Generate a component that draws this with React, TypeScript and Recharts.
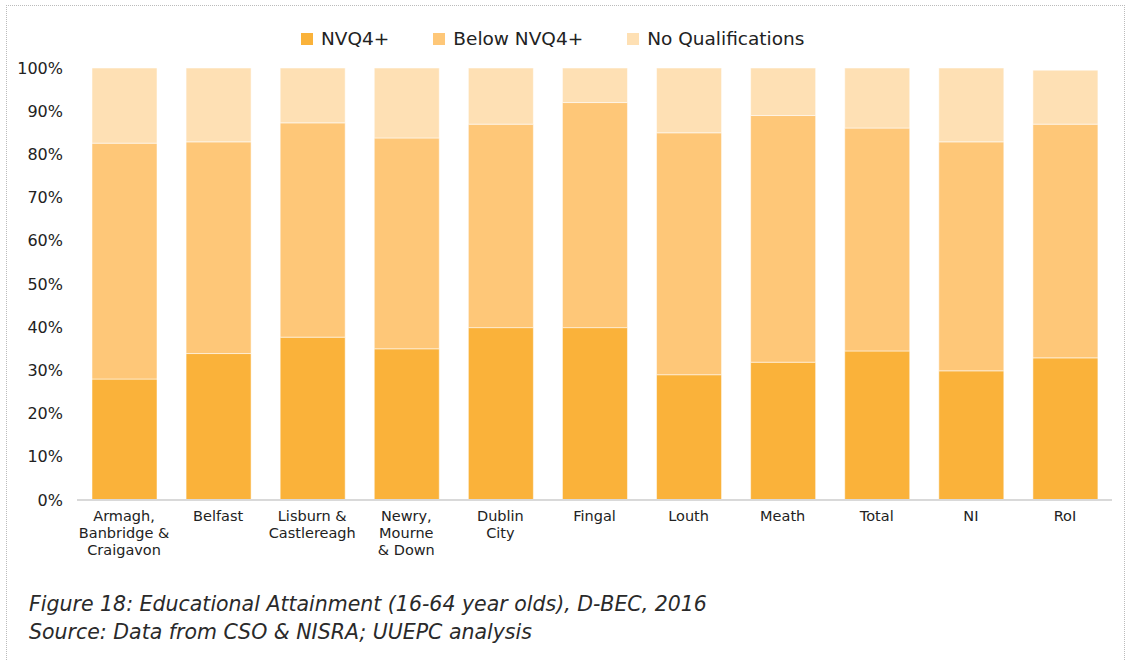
import React from "react";
import { Bar, BarChart, XAxis, YAxis } from "recharts";

const areas = [
  "Armagh,|Banbridge &|Craigavon",
  "Belfast",
  "Lisburn &|Castlereagh",
  "Newry,|Mourne|& Down",
  "Dublin|City",
  "Fingal",
  "Louth",
  "Meath",
  "Total",
  "NI",
  "RoI",
];
const nvq4 = [28.0, 33.9, 37.7, 35.0, 39.9, 39.9, 29.0, 31.9, 34.5, 29.9, 32.9];
const belowNvq4 = [54.6, 49.0, 49.6, 48.8, 47.1, 52.1, 56.0, 57.1, 51.6, 53.0, 54.1];
const noQuals = [17.4, 17.1, 12.7, 16.2, 13.0, 8.0, 15.0, 11.0, 13.9, 17.1, 12.5];
const yTicks = [0, 10, 20, 30, 40, 50, 60, 70, 80, 90, 100];

const series = [
  { key: "nvq4", name: "NVQ4+", color: "#FAB23A" },
  { key: "below", name: "Below NVQ4+", color: "#FEC778" },
  { key: "none", name: "No Qualifications", color: "#FEE0B4" },
];

const FONT = "'DejaVu Sans', sans-serif";

const chartData = areas.map((area, i) => ({
  area,
  nvq4: nvq4[i],
  below: belowNvq4[i],
  none: noQuals[i],
}));

function AreaTick(props: any) {
  const { x, y, payload } = props;
  const lines = String(payload.value).split("|");
  return (
    <text x={x} y={y} textAnchor="middle" fill="#222" fontSize={14.5} fontFamily={FONT}>
      {lines.map((l, i) => (
        <tspan key={i} x={x} dy={i === 0 ? 13 : 17}>
          {l}
        </tspan>
      ))}
    </text>
  );
}

function TopLegend() {
  return (
    <div
      style={{
        position: "absolute",
        left: 301,
        top: 28,
        display: "flex",
        gap: 44,
        fontFamily: FONT,
        fontSize: 18.5,
        lineHeight: "21px",
        color: "#222",
        whiteSpace: "nowrap",
      }}
    >
      {series.map((s) => (
        <div key={s.key} style={{ display: "flex", alignItems: "center" }}>
          <span
            style={{
              width: 12,
              height: 12,
              background: s.color,
              display: "inline-block",
              marginRight: 8,
            }}
          />
          {s.name}
        </div>
      ))}
    </div>
  );
}

export default function App() {
  return (
    <div
      style={{
        position: "absolute",
        left: 0,
        top: 0,
        width: 1125,
        height: 661,
        overflow: "hidden",
        background: "#fff",
      }}
    >
      <div
        style={{
          position: "absolute",
          left: 6,
          top: 5,
          width: 1117,
          height: 700,
          border: "1px dotted #bbb",
          borderBottom: "none",
        }}
      />
      <div style={{ position: "absolute", left: 0, top: 0 }}>
        <BarChart
          width={1125}
          height={580}
          data={chartData}
          margin={{ top: 68, right: 13, bottom: 0, left: 0 }}
        >
          <XAxis
            dataKey="area"
            height={80}
            interval={0}
            tickLine={false}
            axisLine={{ stroke: "#d9d9d9", strokeWidth: 2 }}
            tick={<AreaTick />}
          />
          <YAxis
            width={77}
            domain={[0, 100]}
            ticks={yTicks}
            interval={0}
            axisLine={false}
            tickLine={false}
            tickSize={0}
            tickMargin={14}
            tickFormatter={(v) => `${v}%`}
            tick={{ fill: "#222", fontSize: 16, fontFamily: FONT }}
          />
          {series.map((s) => (
            <Bar
              key={s.key}
              dataKey={s.key}
              name={s.name}
              stackId="a"
              fill={s.color}
              stroke="#fff"
              strokeOpacity={0.5}
              strokeWidth={1}
              barSize={65}
              isAnimationActive={false}
            />
          ))}
        </BarChart>
      </div>
      <TopLegend />
      <div
        style={{
          position: "absolute",
          left: 29,
          top: 590,
          fontFamily: FONT,
          fontStyle: "italic",
          fontWeight: 300,
          fontSize: 20.5,
          lineHeight: "28px",
          color: "#2a2a2a",
          whiteSpace: "nowrap",
        }}
      >
        <div>Figure 18: Educational Attainment (16-64 year olds), D-BEC, 2016</div>
        <div>Source: Data from CSO &amp; NISRA; UUEPC analysis</div>
      </div>
    </div>
  );
}
